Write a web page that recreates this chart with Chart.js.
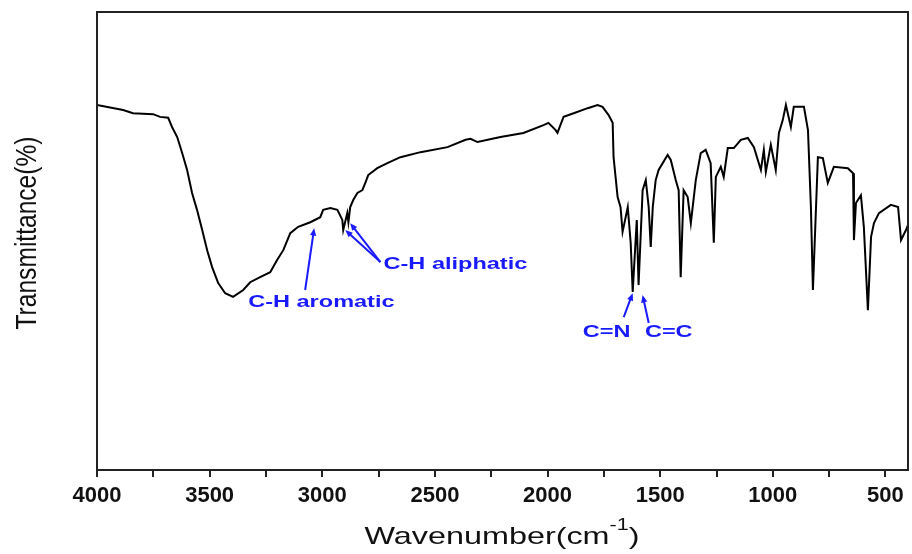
<!DOCTYPE html>
<html>
<head>
<meta charset="utf-8">
<script src="https://cdn.jsdelivr.net/npm/chart.js@4/dist/chart.umd.min.js"></script>
<style>
  html, body { margin: 0; padding: 0; background: #fff; }
  #wrap { width: 912px; height: 554px; }
</style>
</head>
<body>
<div id="wrap"><canvas id="myChart"></canvas></div>
<script>
// FTIR spectrum
const wavenumber = [
    4000, 3884, 3840, 3751, 3720, 3684, 3667, 3644, 3622, 3600,
    3578, 3556, 3533, 3511, 3489, 3462, 3431, 3396, 3351, 3320,
    3276, 3231, 3200, 3173, 3142, 3107, 3053, 3009, 2996, 2964,
    2933, 2911, 2907, 2889, 2884, 2876, 2862, 2844, 2822, 2809,
    2796, 2756, 2711, 2653, 2564, 2444, 2364, 2342, 2311, 2209,
    2107, 2018, 1996, 1964, 1956, 1929, 1884, 1822, 1778, 1756,
    1729, 1711, 1707, 1689, 1676, 1667, 1644, 1631, 1622, 1604,
    1596, 1578, 1564, 1551, 1542, 1533, 1520, 1507, 1467, 1453,
    1431, 1418, 1409, 1396, 1378, 1364, 1342, 1320, 1298, 1276,
    1262, 1253, 1231, 1218, 1200, 1173, 1142, 1111, 1084, 1053,
    1040, 1031, 1009, 987, 973, 956, 942, 920, 907, 862,
    844, 831, 822, 800, 778, 756, 729, 667, 644, 640,
    631, 609, 596, 578, 564, 551, 529, 476, 444, 431,
    409, 400
];
const transmittance = [
    79.7, 78.6, 77.9, 77.7, 77.1, 76.9, 74.9, 72.7, 69.2, 65.5,
    60.5, 56.8, 52.4, 48.0, 44.3, 40.8, 38.6, 37.8, 39.3, 41.0,
    42.1, 43.2, 45.9, 48.0, 51.7, 53.1, 54.1, 55.2, 56.8, 57.2,
    56.8, 54.6, 52.4, 56.1, 54.1, 57.4, 59.0, 60.5, 61.1, 62.7,
    64.4, 65.9, 67.0, 68.3, 69.4, 70.5, 72.1, 72.3, 71.6, 72.7,
    73.6, 75.3, 75.8, 74.2, 73.6, 77.1, 77.9, 79.0, 79.7, 79.3,
    77.5, 75.8, 68.3, 59.6, 57.4, 52.0, 57.4, 49.6, 38.9, 54.6,
    40.4, 61.1, 63.3, 57.4, 48.7, 57.4, 63.3, 65.5, 68.8, 67.7,
    63.3, 61.1, 42.1, 61.1, 59.6, 53.9, 63.3, 69.2, 69.9, 67.0,
    49.6, 64.0, 66.2, 64.0, 70.3, 70.3, 72.1, 72.5, 70.5, 65.5,
    69.9, 65.1, 71.0, 65.5, 73.6, 76.4, 79.7, 74.9, 79.3, 79.3,
    74.2, 57.4, 39.3, 68.3, 68.1, 62.7, 66.2, 65.9, 64.8, 50.2,
    58.3, 60.0, 53.1, 34.9, 50.9, 53.9, 56.1, 57.9, 57.4, 50.2,
    52.4, 53.5
];
const xTicks = [4000, 3750, 3500, 3250, 3000, 2750, 2500, 2250, 2000, 1750, 1500, 1250, 1000, 750, 500];

// band labels: text centre, arrow tails and heads (wavenumber, transmittance)
const bandLabels = ['C-H aromatic', 'C-H aliphatic', 'C=N', 'C=C'];
const bandTextAt = [[3004, 36.5], [2409, 44.8], [1738, 29.9], [1462, 29.9]];
const bandArrows = [
    [[3076, 39.3, 3036, 52.8]],
    [[2742, 45.4, 2898, 52.4], [2742, 45.4, 2876, 53.9]],
    [[1662, 33.4, 1622, 38.6]],
    [[1551, 32.1, 1578, 38.2]]
];

const blue = '#1a1aff';

function stretchedText(c, text, x, y, font, sx, sy) {
    c.save();
    c.font = font;
    c.translate(x, y);
    c.scale(sx, sy);
    c.textAlign = 'center';
    c.textBaseline = 'middle';
    c.fillText(text, 0, 0);
    c.restore();
}

function arrow(c, x1, y1, x2, y2) {
    const a = Math.atan2(y2 - y1, x2 - x1);
    const len = 8;
    c.beginPath();
    c.moveTo(x1, y1);
    c.lineTo(x2 - Math.cos(a) * 4, y2 - Math.sin(a) * 4);
    c.stroke();
    c.beginPath();
    c.moveTo(x2, y2);
    c.lineTo(x2 - len * Math.cos(a - 0.4), y2 - len * Math.sin(a - 0.4));
    c.lineTo(x2 - len * Math.cos(a + 0.4), y2 - len * Math.sin(a + 0.4));
    c.closePath();
    c.fill();
}

const decor = {
    id: 'decor',
    afterDatasetsDraw(chart) {
        const c = chart.ctx;
        const a = chart.chartArea;
        const xs = chart.scales.x;
        const ys = chart.scales.y;

        // frame
        c.save();
        c.strokeStyle = '#222';
        c.lineWidth = 2;
        c.strokeRect(a.left, a.top, a.right - a.left, a.bottom - a.top);
        c.restore();

        // band annotations
        c.save();
        c.fillStyle = blue;
        c.strokeStyle = blue;
        c.lineWidth = 2;
        bandLabels.forEach((label, i) => {
            bandArrows[i].forEach(([w1, t1, w2, t2]) => {
                arrow(c, xs.getPixelForValue(w1), ys.getPixelForValue(t1),
                    xs.getPixelForValue(w2), ys.getPixelForValue(t2));
            });
            const [w, t] = bandTextAt[i];
            stretchedText(c, label, xs.getPixelForValue(w), ys.getPixelForValue(t),
                'bold 16px "Liberation Sans", Arial, sans-serif', 1.47, 1);
        });
        c.restore();

        // x title with superscript
        c.save();
        c.fillStyle = '#111';
        const main = 'Wavenumber(cm';
        const fMain = '24px "Liberation Sans", Arial, sans-serif';
        const fSup = '16px "Liberation Sans", Arial, sans-serif';
        c.font = fMain;
        const wMain = c.measureText(main).width;
        const wClose = c.measureText(')').width;
        c.font = fSup;
        const wSup = c.measureText('-1').width;
        const total = wMain + wSup + wClose;
        const sx = 275 / total;
        c.translate(502, 537);
        c.scale(sx, 1);
        c.textBaseline = 'middle';
        c.textAlign = 'left';
        let x = -total / 2;
        c.font = fMain;
        c.fillText(main, x, 0);
        x += wMain;
        c.font = fSup;
        c.fillText('-1', x, -11);
        x += wSup;
        c.font = fMain;
        c.fillText(')', x, 0);
        c.restore();

        // y title
        c.save();
        c.fillStyle = '#111';
        c.font = '22px "Liberation Sans", Arial, sans-serif';
        const yt = 'Transmittance(%)';
        const wy = c.measureText(yt).width;
        c.translate(28, 233);
        c.rotate(-Math.PI / 2);
        c.scale(193 / wy, 1.3);
        c.textAlign = 'center';
        c.textBaseline = 'middle';
        c.fillText(yt, 0, 0);
        c.restore();
    }
};

const ctx = document.getElementById('myChart');

new Chart(ctx, {
    type: 'line',
    data: {
        datasets: [{
            data: wavenumber.map((w, i) => ({ x: w, y: transmittance[i] })),
            borderColor: '#000',
            borderWidth: 2,
            pointRadius: 0,
            tension: 0,
            fill: false
        }]
    },
    options: {
        responsive: true,
        maintainAspectRatio: false,
        animation: false,
        layout: { padding: { top: 12, right: 4, left: 0, bottom: 0 } },
        plugins: {
            legend: { display: false },
            tooltip: { enabled: false }
        },
        scales: {
            x: {
                type: 'linear',
                reverse: true,
                min: 400,
                max: 4000,
                afterBuildTicks: (scale) => {
                    scale.ticks = xTicks.map(v => ({ value: v }));
                },
                afterFit: (scale) => { scale.height = 84; },
                ticks: {
                    autoSkip: false,
                    maxRotation: 0,
                    padding: 6,
                    color: '#111',
                    font: { family: '"Liberation Sans Narrow", "Liberation Sans", Arial', size: 22, weight: 'bold' },
                    callback: (v) => (v % 500 === 0 ? String(v) : '')
                },
                grid: {
                    drawOnChartArea: false,
                    drawTicks: true,
                    tickLength: 7,
                    color: '#222',
                    lineWidth: 2
                },
                border: { display: false }
            },
            y: {
                min: 0,
                max: 100,
                afterFit: (scale) => { scale.width = 97; },
                ticks: { display: false },
                grid: { display: false },
                border: { display: false }
            }
        }
    },
    plugins: [decor]
});
</script>
</body>
</html>
